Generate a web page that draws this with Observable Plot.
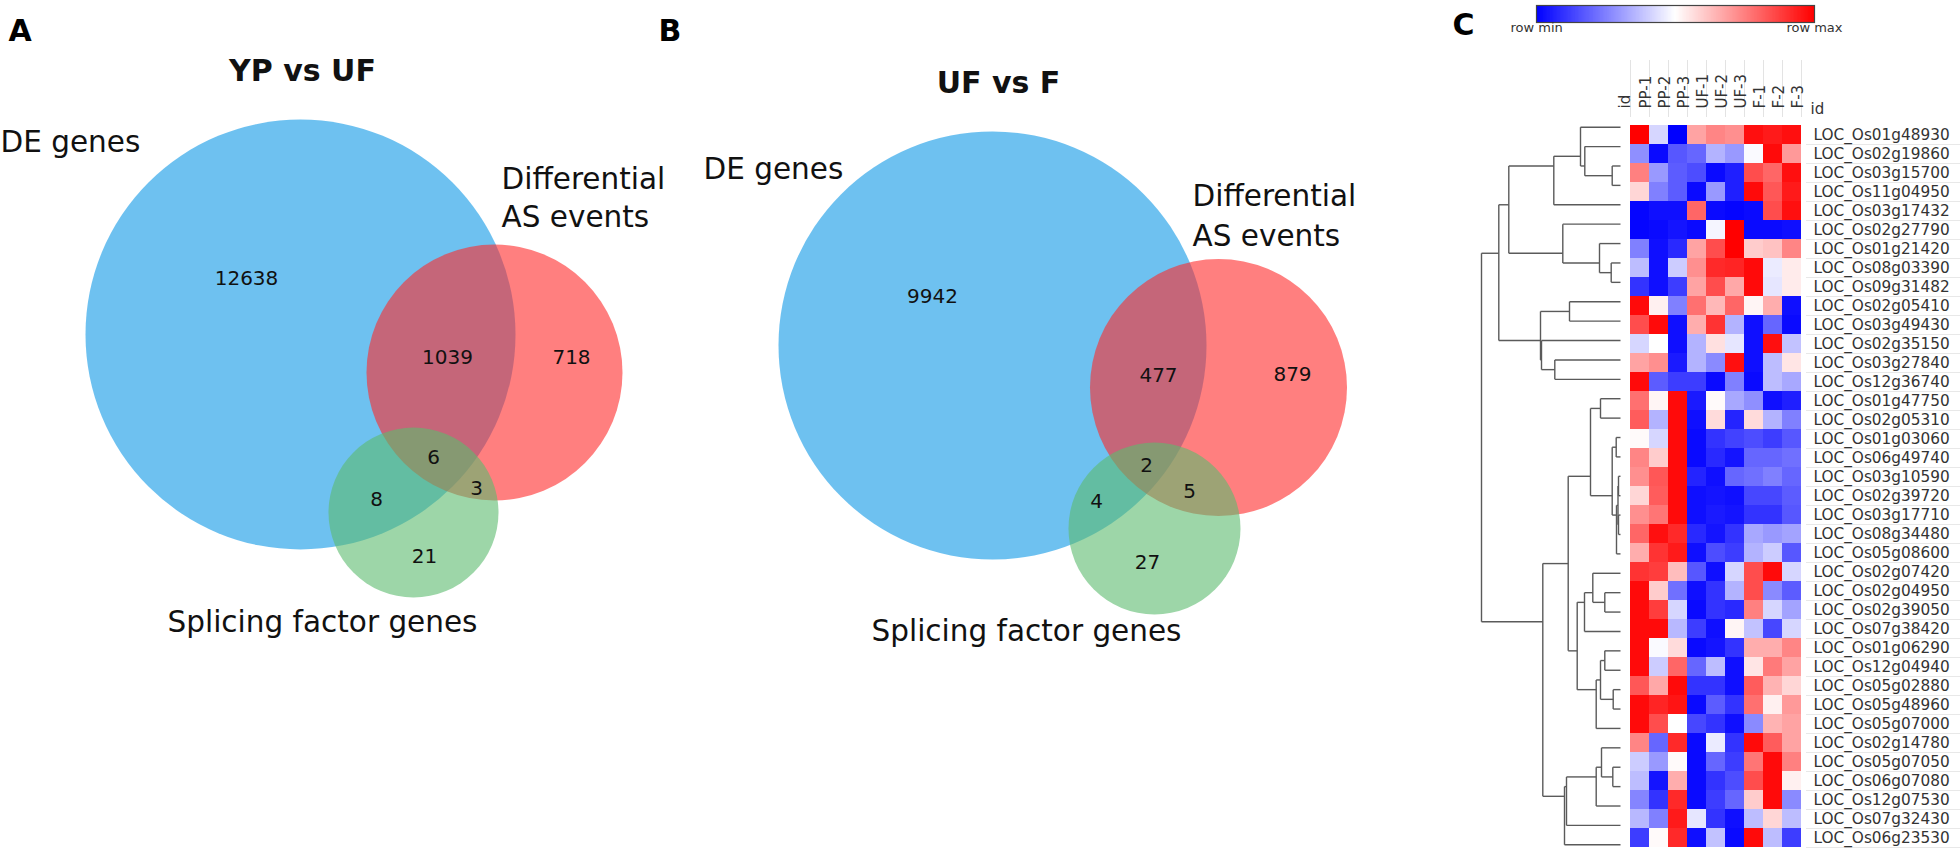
<!DOCTYPE html>
<html>
<head>
<meta charset="utf-8">
<script src="https://cdn.jsdelivr.net/npm/d3@7"></script>
<script src="https://cdn.jsdelivr.net/npm/@observablehq/plot@0.6"></script>
<style>
  html, body { margin: 0; padding: 0; background: #fff; }
  #fig { position: relative; width: 1960px; height: 854px; overflow: hidden; background: #fff; }
  #fig > svg { position: absolute; }
</style>
</head>
<body>
<div id="fig"></div>
<script>
// ---------------- DATA ----------------
const panelLetters = ["A", "B", "C"];
const vennTitles = ["YP vs UF", "UF vs F"];
const vennSetLabels = [["DE genes"], ["Differential", "AS events"], ["Splicing factor genes"]];
// regions: DE only, DE∩AS, AS only, DE∩AS∩SF, AS∩SF, DE∩SF, SF only
const vennRegions = ["DE", "DE&AS", "AS", "DE&AS&SF", "AS&SF", "DE&SF", "SF"];
const countsYPvsUF = [12638, 1039, 718, 6, 3, 8, 21];
const countsUFvsF = [9942, 477, 879, 2, 5, 4, 27];

const columns = ["PP-1", "PP-2", "PP-3", "UF-1", "UF-2", "UF-3", "F-1", "F-2", "F-3"];
const genes = [
  "LOC_Os01g48930", "LOC_Os02g19860", "LOC_Os03g15700", "LOC_Os11g04950", "LOC_Os03g17432",
  "LOC_Os02g27790", "LOC_Os01g21420", "LOC_Os08g03390", "LOC_Os09g31482", "LOC_Os02g05410",
  "LOC_Os03g49430", "LOC_Os02g35150", "LOC_Os03g27840", "LOC_Os12g36740", "LOC_Os01g47750",
  "LOC_Os02g05310", "LOC_Os01g03060", "LOC_Os06g49740", "LOC_Os03g10590", "LOC_Os02g39720",
  "LOC_Os03g17710", "LOC_Os08g34480", "LOC_Os05g08600", "LOC_Os02g07420", "LOC_Os02g04950",
  "LOC_Os02g39050", "LOC_Os07g38420", "LOC_Os01g06290", "LOC_Os12g04940", "LOC_Os05g02880",
  "LOC_Os05g48960", "LOC_Os05g07000", "LOC_Os02g14780", "LOC_Os05g07050", "LOC_Os06g07080",
  "LOC_Os12g07530", "LOC_Os07g32430", "LOC_Os06g23530"
];
// row-scaled expression (0 = row min, 1 = row max)
const rowScaled = [
  [1.00, 0.42, 0.00, 0.68, 0.74, 0.72, 0.97, 0.95, 0.97],
  [0.28, 0.02, 0.17, 0.20, 0.35, 0.30, 0.49, 0.98, 0.70],
  [0.75, 0.30, 0.18, 0.15, 0.02, 0.06, 0.85, 0.80, 0.97],
  [0.58, 0.25, 0.18, 0.02, 0.30, 0.06, 0.98, 0.83, 0.95],
  [0.01, 0.03, 0.03, 0.80, 0.02, 0.01, 0.02, 0.85, 0.97],
  [0.01, 0.02, 0.04, 0.02, 0.48, 1.00, 0.02, 0.02, 0.03],
  [0.25, 0.03, 0.08, 0.68, 0.85, 1.00, 0.60, 0.62, 0.74],
  [0.37, 0.03, 0.40, 0.72, 0.92, 0.93, 0.98, 0.46, 0.54],
  [0.10, 0.03, 0.12, 0.68, 0.85, 0.67, 0.98, 0.45, 0.54],
  [0.98, 0.53, 0.25, 0.78, 0.64, 0.80, 0.52, 0.66, 0.03],
  [0.85, 0.98, 0.03, 0.66, 0.90, 0.35, 0.03, 0.20, 0.02],
  [0.42, 0.50, 0.03, 0.35, 0.56, 0.45, 0.03, 0.97, 0.38],
  [0.68, 0.72, 0.05, 0.35, 0.27, 0.97, 0.03, 0.37, 0.55],
  [0.98, 0.18, 0.12, 0.12, 0.02, 0.25, 0.02, 0.37, 0.33],
  [0.78, 0.52, 0.98, 0.05, 0.51, 0.33, 0.28, 0.03, 0.06],
  [0.82, 0.35, 0.98, 0.03, 0.57, 0.07, 0.57, 0.35, 0.25],
  [0.51, 0.42, 0.98, 0.02, 0.10, 0.13, 0.15, 0.12, 0.17],
  [0.74, 0.60, 0.98, 0.02, 0.08, 0.04, 0.20, 0.20, 0.22],
  [0.72, 0.83, 0.98, 0.07, 0.03, 0.20, 0.22, 0.25, 0.20],
  [0.58, 0.82, 0.98, 0.03, 0.04, 0.03, 0.14, 0.14, 0.18],
  [0.72, 0.77, 0.98, 0.03, 0.05, 0.04, 0.10, 0.10, 0.17],
  [0.80, 0.97, 0.92, 0.08, 0.04, 0.10, 0.33, 0.30, 0.32],
  [0.66, 0.90, 0.95, 0.03, 0.15, 0.12, 0.35, 0.40, 0.17],
  [0.90, 0.88, 0.63, 0.17, 0.03, 0.42, 0.85, 0.98, 0.42],
  [0.98, 0.60, 0.22, 0.03, 0.10, 0.35, 0.85, 0.27, 0.18],
  [0.98, 0.88, 0.42, 0.02, 0.10, 0.08, 0.75, 0.42, 0.32],
  [0.98, 0.98, 0.36, 0.12, 0.03, 0.52, 0.38, 0.14, 0.42],
  [0.98, 0.49, 0.57, 0.02, 0.04, 0.10, 0.66, 0.66, 0.74],
  [0.98, 0.40, 0.80, 0.20, 0.37, 0.03, 0.55, 0.76, 0.68],
  [0.83, 0.67, 0.98, 0.10, 0.10, 0.03, 0.82, 0.65, 0.58],
  [0.98, 0.93, 0.96, 0.02, 0.18, 0.10, 0.78, 0.53, 0.70],
  [0.98, 0.85, 0.50, 0.14, 0.10, 0.03, 0.27, 0.65, 0.68],
  [0.74, 0.20, 0.92, 0.02, 0.46, 0.10, 0.98, 0.82, 0.68],
  [0.40, 0.30, 0.51, 0.02, 0.20, 0.12, 0.77, 0.98, 0.75],
  [0.37, 0.04, 0.66, 0.02, 0.10, 0.15, 0.85, 0.98, 0.53],
  [0.26, 0.10, 0.92, 0.02, 0.12, 0.20, 0.60, 0.98, 0.27],
  [0.36, 0.25, 0.95, 0.45, 0.10, 0.03, 0.37, 0.58, 0.37],
  [0.12, 0.51, 0.92, 0.03, 0.38, 0.02, 0.98, 0.37, 0.12]
];
// hierarchical clustering of rows: [height, left, right]; leaves are row indices
const dendroTree = [1.39,
  [1.217,
    [1.117,
      [0.667, [0.40, 0, [0.357, 1, [0.083, 2, 3]]], 4],
      [0.577, 5, [0.21, 6, [0.093, 7, 8]]]],
    [0.80, [0.51, 9, 10], [0.79, 11, [0.657, 12, 13]]]],
  [0.777,
    [0.523,
      [0.30, [0.20, 14, 15], [0.083, [0.043, 16, 17], [0.04, [0.025, [0.02, 18, 19], [0.02, 20, 21]], 22]]],
      [0.433, [0.36, [0.277, 23, [0.157, 24, 25]], 26], [0.243, [0.20, [0.157, 27, 28], [0.073, 29, 30]], 31]]],
    [0.56, [0.54, [0.243, [0.19, 32, [0.077, 33, 34]], 35], 36], 37]]
];

// ---------------- LAYOUT / STYLE ----------------
const FONT = "'DejaVu Sans', 'Liberation Sans', Arial, sans-serif";
const vennColors = ["#0d98e6", "#ff2a2a", "#5cbb6e"];
const vennLayout = [
  { letter: [8, 40], title: [302, 80],
    circles: [[300, 334, 215], [494, 372, 128], [413, 512, 85]],
    setLabels: [[[0, 151]], [[501, 188], [501, 226]], [[322, 631]]],
    setAnchor: ["start", "start", "middle"],
    regions: [[246, 284], [447, 363], [571, 363], [433, 463], [476, 494], [376, 505], [424, 562]] },
  { letter: [658, 40], title: [998, 92],
    circles: [[992, 345, 214], [1218, 387, 128.5], [1154, 528, 86]],
    setLabels: [[[703, 178]], [[1192, 205], [1192, 245]], [[1026, 640]]],
    setAnchor: ["start", "start", "middle"],
    regions: [[932, 302], [1158, 381], [1292, 380], [1146, 471], [1189, 497], [1096, 507], [1147, 568]] }
];
const counts = [countsYPvsUF, countsUFvsF];
const mid = (baseline, fs) => baseline - 0.32 * fs;
const fig = document.getElementById("fig");
function place(svg, left, top) { svg.style.left = left + "px"; svg.style.top = top + "px"; fig.appendChild(svg); }

// ---------------- VENN (base layer) ----------------
const circleMarks = [0, 1, 2].map(i =>
  Plot.dot(vennLayout.map(L => ({x: L.circles[i][0], y: L.circles[i][1], r: L.circles[i][2]})),
    {x: "x", y: "y", r: "r", fill: vennColors[i], fillOpacity: 0.6, stroke: null}));

const countText = vennLayout.flatMap((L, p) => vennRegions.map((reg, k) =>
  ({x: L.regions[k][0], y: mid(L.regions[k][1], 20), text: String(counts[p][k])})));
const setText = vennLayout.flatMap(L => vennSetLabels.flatMap((lines, s) => lines.map((t, li) =>
  ({x: L.setLabels[s][li][0], y: mid(L.setLabels[s][li][1], 29.5), text: t, anchor: L.setAnchor[s]}))));
const titleText = vennLayout.map((L, p) => ({x: L.title[0], y: mid(L.title[1], 30), text: vennTitles[p]}));
const letterText = [
  {x: vennLayout[0].letter[0], y: mid(40, 30), text: panelLetters[0]},
  {x: vennLayout[1].letter[0], y: mid(40, 30), text: panelLetters[1]},
  {x: 1452, y: mid(34, 30), text: panelLetters[2]}
];

const base = Plot.plot({
  width: 1960, height: 854, margin: 0,
  x: {domain: [0, 1960], range: [0, 1960], axis: null},
  y: {domain: [0, 854], range: [0, 854], axis: null},
  r: {type: "linear", domain: [0, 1], range: [0, 1]},
  style: {fontFamily: FONT, background: "white", overflow: "visible"},
  marks: [
    ...circleMarks,
    Plot.text(countText, {x: "x", y: "y", text: "text", fontSize: 20, fill: "#111", textAnchor: "middle", lineAnchor: "middle"}),
    Plot.text(setText.filter(d => d.anchor === "start"), {x: "x", y: "y", text: "text", fontSize: 29.5, fill: "#111", textAnchor: "start", lineAnchor: "middle"}),
    Plot.text(setText.filter(d => d.anchor === "middle"), {x: "x", y: "y", text: "text", fontSize: 29.5, fill: "#111", textAnchor: "middle", lineAnchor: "middle"}),
    Plot.text(titleText, {x: "x", y: "y", text: "text", fontSize: 30, fontWeight: "bold", fill: "#111", textAnchor: "middle", lineAnchor: "middle"}),
    Plot.text(letterText, {x: "x", y: "y", text: "text", fontSize: 30, fontWeight: "bold", fill: "#000", textAnchor: "start", lineAnchor: "middle"})
  ]
});
place(base, 0, 0);

// ---------------- HEATMAP ----------------
const rowColor = {type: "linear", domain: [0, 0.5, 1], range: ["#0000ff", "#ffffff", "#ff0000"], interpolate: "rgb"};
const cells = genes.flatMap((g, i) => columns.map((c, j) => ({gene: g, col: c, value: rowScaled[i][j]})));
const HEAT_LEFT = 1600;
const heat = Plot.plot({
  width: 360, height: 854, marginLeft: 28, marginRight: 157, marginTop: 117, marginBottom: 0,
  x: {domain: columns, padding: 0, axis: null},
  y: {domain: genes, padding: 0, axis: "right", tickSize: 0, tickPadding: 10, label: null},
  color: rowColor,
  style: {background: "transparent", fontFamily: FONT, fontSize: "15.3px", color: "#333", overflow: "visible"},
  marks: [
    Plot.cell(cells, {x: "col", y: "gene", fill: "value"}),
    Plot.text(columns, {x: d => d, frameAnchor: "top", dy: -9, rotate: -90, textAnchor: "start", fontSize: 15, fill: "#333"}),
    Plot.text(["id"], {frameAnchor: "top-left", dx: -9, dy: -9, rotate: -90, textAnchor: "start", fontSize: 15, fill: "#333"}),
    Plot.text(["id"], {frameAnchor: "top-right", dx: 7, dy: -14, textAnchor: "start", fontSize: 15, fill: "#333"})
  ]
});

// faint separators in the label areas (Morpheus style), positioned from the heatmap's own scales
const xs = heat.scale("x"), ys = heat.scale("y");
const colEdges = columns.map(c => HEAT_LEFT + xs.apply(c)).concat([HEAT_LEFT + xs.apply(columns[columns.length - 1]) + xs.bandwidth]);
const rowEdges = genes.map(g => ys.apply(g) + ys.bandwidth);
const grid = Plot.plot({
  width: 1960, height: 854, margin: 0,
  x: {domain: [0, 1960], range: [0, 1960], axis: null},
  y: {domain: [0, 854], range: [0, 854], axis: null},
  style: {background: "transparent", overflow: "visible"},
  marks: [
    Plot.ruleX(colEdges, {x: d => d, y1: 60, y2: 117, stroke: "#e3e3e3", strokeWidth: 1}),
    Plot.ruleY(rowEdges, {y: d => d, x1: 1806, x2: 1960, stroke: "#e8e8e8", strokeWidth: 1})
  ]
});
place(grid, 0, 0);
place(heat, HEAT_LEFT, 0);

// ---------------- DENDROGRAM ----------------
const segs = [];
function walk(node) {
  if (typeof node === "number") return {y: node, h: 0, leaves: [node]};
  const [h, a, b] = node;
  const A = walk(a), B = walk(b);
  segs.push({x1: h, x2: h, y1: A.y, y2: B.y});
  segs.push({x1: h, x2: A.h, y1: A.y, y2: A.y});
  segs.push({x1: h, x2: B.h, y1: B.y, y2: B.y});
  const leaves = A.leaves.concat(B.leaves);
  return {y: d3.mean(leaves), h, leaves};
}
walk(dendroTree);
const dendro = Plot.plot({
  width: 188, height: 854, marginLeft: 41, marginRight: 8, marginTop: 117, marginBottom: 0,
  x: {domain: [dendroTree[0], 0], axis: null},
  y: {domain: [-0.5, genes.length - 0.5], reverse: true, axis: null},
  style: {background: "transparent", overflow: "visible"},
  marks: [Plot.link(segs, {x1: "x1", y1: "y1", x2: "x2", y2: "y2", stroke: "#5a5a5a", strokeWidth: 1.4})]
});
place(dendro, 1440, 0);

// ---------------- COLOR BAR ----------------
const steps = d3.range(0, 1, 1 / 200);
const bar = Plot.plot({
  width: 360, height: 40, marginLeft: 36, marginRight: 46, marginTop: 5, marginBottom: 18,
  x: {domain: [0, 1], axis: null},
  y: {domain: [0, 1], axis: null},
  color: rowColor,
  style: {background: "transparent", fontFamily: FONT, color: "#333", overflow: "visible"},
  marks: [
    Plot.rect(steps, {x1: d => d, x2: d => Math.min(1, d + 1.6 / 200), y1: 0, y2: 1, fill: d => d + 0.5 / 200}),
    Plot.frame({stroke: "#444", strokeWidth: 1.2}),
    Plot.text(["row min"], {frameAnchor: "bottom-left", dx: -26, dy: 9, textAnchor: "start", fontSize: 13, fill: "#333"}),
    Plot.text(["row max"], {frameAnchor: "bottom-right", dx: 28, dy: 9, textAnchor: "end", fontSize: 13, fill: "#333"})
  ]
});
place(bar, 1500, 0);
</script>
</body>
</html>
